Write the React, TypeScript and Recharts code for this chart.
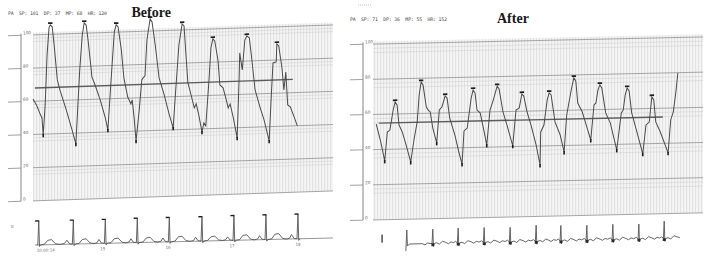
import React from 'react';
import { ComposedChart, Line, Scatter, XAxis, YAxis, ReferenceLine, ReferenceArea } from 'recharts';

// ---------- shared ----------
const pressureTicks = [0, 20, 40, 60, 80, 100];
const gridValues = [100, 80, 60, 40, 20, 0];
const faintOffsets = [2, 4];

// ---------- BEFORE (PA pressure, time in s, mmHg) ----------
const beforeHeader = 'PA  SP: 101  DP: 37  MP: 68  HR: 120';
const beforePA: [number, number][] = [
  [0, 61.4], [0.06, 57.2], [0.11, 52.3], [0.14, 49.8], [0.16, 39.6], [0.19, 57.6], [0.22, 87.7], [0.25, 103.9],
  [0.27, 105.7], [0.3, 104.5], [0.33, 93.6], [0.38, 72.4], [0.42, 66.3], [0.52, 54.2], [0.61, 42], [0.67, 33.5],
  [0.73, 78], [0.77, 99], [0.8, 106.2], [0.83, 104.9], [0.86, 95.9], [0.91, 77.8], [0.92, 73.5], [0.97, 68.6],
  [1.05, 59.5], [1.13, 48.6], [1.17, 41.3],
  [1.22, 71.3], [1.27, 100.2], [1.3, 104.4], [1.33, 103.1], [1.38, 89.2], [1.42, 72.3], [1.48, 60.7], [1.53, 56.5],
  [1.55, 58.9], [1.58, 48], [1.61, 34.1],
  [1.66, 52.7], [1.7, 70.7], [1.72, 71.9], [1.75, 73.1], [1.78, 94.7], [1.83, 107.3], [1.86, 105.4], [1.91, 91.5],
  [1.97, 71.6], [2.05, 61.2], [2.13, 49.1], [2.19, 41.2],
  [2.23, 64], [2.28, 91], [2.33, 103.6], [2.36, 102.4], [2.39, 84.9], [2.42, 68], [2.45, 63.7], [2.52, 52.8],
  [2.55, 55.2], [2.59, 48.5], [2.64, 38.2], [2.67, 43.6], [2.7, 41.7],
  [2.75, 69.4], [2.78, 88.6], [2.81, 94], [2.84, 92.7], [2.89, 81.2], [2.92, 66.1], [2.97, 64.3], [3.02, 57],
  [3.05, 52.1], [3.08, 54.5], [3.13, 46], [3.19, 33.9],
  [3.22, 68.8], [3.23, 85], [3.27, 74.7], [3.31, 92.7], [3.34, 95.1], [3.38, 93.9], [3.42, 80.5], [3.47, 62.4],
  [3.55, 51.5], [3.61, 44.2], [3.69, 31.4],
  [3.72, 56.1], [3.75, 78.3], [3.8, 78.9], [3.81, 89.7], [3.84, 88.4], [3.89, 75.1], [3.92, 61.8], [3.95, 72.6],
  [3.98, 52.7], [4.02, 51.5], [4.08, 45.4], [4.13, 39.9],
];
const beforePeaks: [number, number][] = [
  [0.27, 105.7], [0.8, 106.2], [1.3, 104.4], [1.83, 107.3], [2.33, 103.6], [2.81, 94], [3.34, 95.1], [3.81, 89.7],
];
const beforeTroughs: [number, number][] = [
  [0.16, 39.6], [0.67, 33.5], [1.17, 41.3], [1.61, 34.1], [2.19, 41.2], [2.64, 38.2], [3.19, 33.9], [3.69, 31.4],
];
const beforeMean: [number, number][] = [[0.03, 68], [4.06, 68]];
const beforeSpan = [-0.1875, 4.6875];

// ECG lead II (time s, mV)
const beforeEcg: [number, number][] = [
  [0.06, 0], [0.075, 0], [0.09, 1.2], [0.102, -0.08], [0.12, 0], [0.18, 0.03], [0.23, 0.22], [0.29, 0.25], [0.35, 0.04], [0.42, 0], [0.49, 0.04], [0.53, 0.2], [0.57, 0.02], [0.615, 0],
  [0.63, 1.2], [0.642, -0.08], [0.66, 0], [0.72, 0.03], [0.77, 0.22], [0.83, 0.25], [0.89, 0.04], [0.95, 0], [1.0, 0.04], [1.03, 0.2], [1.07, 0.02], [1.115, 0],
  [1.13, 1.2], [1.142, -0.08], [1.16, 0], [1.22, 0.03], [1.27, 0.22], [1.33, 0.25], [1.39, 0.04], [1.45, 0], [1.5, 0.04], [1.53, 0.2], [1.57, 0.02], [1.615, 0],
  [1.63, 1.22], [1.642, -0.08], [1.66, 0], [1.72, 0.03], [1.77, 0.22], [1.83, 0.25], [1.89, 0.04], [1.95, 0], [2.0, 0.04], [2.03, 0.2], [2.07, 0.02], [2.115, 0],
  [2.13, 1.22], [2.142, -0.08], [2.16, 0], [2.22, 0.03], [2.27, 0.24], [2.33, 0.26], [2.39, 0.04], [2.46, 0], [2.51, 0.04], [2.54, 0.2], [2.58, 0.02], [2.625, 0],
  [2.64, 1.22], [2.652, -0.08], [2.67, 0], [2.73, 0.03], [2.78, 0.2], [2.84, 0.23], [2.9, 0.04], [2.96, 0], [3.01, 0.04], [3.04, 0.18], [3.08, 0.02], [3.125, 0],
  [3.14, 1.24], [3.152, -0.08], [3.17, 0], [3.23, 0.03], [3.28, 0.24], [3.34, 0.26], [3.4, 0.04], [3.46, 0], [3.51, 0.04], [3.54, 0.2], [3.58, 0.02], [3.625, 0],
  [3.64, 1.24], [3.652, -0.08], [3.67, 0], [3.73, 0.03], [3.78, 0.26], [3.84, 0.28], [3.9, 0.04], [3.96, 0], [4.01, 0.04], [4.04, 0.22], [4.08, 0.02], [4.125, 0],
  [4.14, 1.24], [4.152, -0.08], [4.17, 0],
];
const beforeRPeaks: [number, number][] = [
  [0.09, 1.2], [0.63, 1.2], [1.13, 1.2], [1.63, 1.22], [2.13, 1.22], [2.64, 1.22], [3.14, 1.24], [3.64, 1.24], [4.14, 1.24],
];
const beforeEcgTicks = [0.2, 1.09, 2.11, 3.11, 4.14];
const beforeEcgLabels = ['10:00:14', '15', '16', '17', '18'];

// ---------- AFTER ----------
const afterHeader = 'PA  SP: 71  DP: 36  MP: 55  HR: 152';
const afterPA: [number, number][] = [
  [0.05, 54.5], [0.12, 44.2], [0.18, 33.4], [0.22, 49.8], [0.26, 50.9], [0.31, 62.3], [0.34, 66.8], [0.37, 65.1],
  [0.4, 53.7], [0.45, 49.7], [0.51, 42.2], [0.58, 32.5], [0.63, 45], [0.68, 55.2], [0.71, 70.5], [0.74, 77.8],
  [0.77, 76.1], [0.82, 63.6], [0.85, 61.8], [0.88, 60.7], [0.92, 51.5], [0.98, 43], [1.02, 61.7], [1.06, 63.4],
  [1.11, 69.6], [1.14, 68.4], [1.18, 57], [1.26, 47.3], [1.32, 37.6], [1.37, 30.7], [1.4, 49.5], [1.45, 51.1],
  [1.51, 68.1], [1.54, 72.7], [1.57, 70.9], [1.6, 61.2], [1.65, 59.5], [1.71, 48.7], [1.75, 41.2], [1.8, 61.1],
  [1.85, 66.7], [1.91, 74.6], [1.94, 72.9], [2.0, 59.8], [2.06, 52.4], [2.15, 40.4], [2.2, 60.8], [2.25, 61.9],
  [2.29, 69.8], [2.32, 68.6], [2.37, 59.5], [2.43, 52.1], [2.51, 40.6], [2.57, 29.2], [2.58, 48], [2.63, 51.9],
  [2.68, 66.1], [2.71, 70.1], [2.74, 68.9], [2.8, 53.5], [2.88, 46], [2.94, 36.3], [2.98, 57.3], [3.05, 71.5],
  [3.09, 78.3], [3.12, 76.5], [3.15, 64], [3.22, 58.8], [3.28, 51.4], [3.35, 42.8], [3.4, 62.7], [3.43, 63.8],
  [3.46, 71.1], [3.49, 74], [3.52, 72.2], [3.58, 58], [3.65, 52.3], [3.75, 36.8], [3.82, 57.8], [3.85, 59.5],
  [3.88, 68], [3.91, 71.9], [3.94, 70.2], [3.98, 57.7], [4.06, 46.8], [4.15, 34.3], [4.2, 50.7], [4.25, 52.3],
  [4.29, 66.5], [4.32, 64.8], [4.35, 52.3], [4.42, 46.5], [4.54, 34.5], [4.58, 53.2], [4.62, 57.7], [4.66, 69.1],
  [4.69, 79.8],
];
const afterPeaks: [number, number][] = [
  [0.34, 66.8], [0.74, 77.8], [1.11, 69.6], [1.54, 72.7], [1.91, 74.6], [2.29, 69.8], [2.71, 70.1], [3.09, 78.3],
  [3.49, 74], [3.91, 71.9], [4.29, 66.5],
];
const afterTroughs: [number, number][] = [
  [0.18, 33.4], [0.58, 32.5], [0.98, 43], [1.37, 30.7], [1.75, 41.2], [2.15, 40.4], [2.57, 29.2], [2.94, 36.3],
  [3.35, 42.8], [3.75, 36.8], [4.15, 34.3], [4.54, 34.5],
];
const afterMean: [number, number][] = [[0.09, 55], [4.46, 55]];
const afterSpan = [-0.154, 5.077];

const afterEcg: [number, number][] = [
  [0.505, -0.35], [0.52, 0.7], [0.53, -0.1], [0.56, 0], [0.7, 0], [0.76, 0], [0.8, -0.06], [0.84, 0.03], [0.88, 0], [0.908, 0],
  [0.92, 0.72], [0.93, -0.15], [0.945, 0], [0.98, 0.03], [1.02, -0.04], [1.07, 0.1], [1.12, 0.04], [1.16, -0.03], [1.2, 0.06], [1.24, 0.02], [1.27, 0.08], [1.298, 0],
  [1.31, 0.74], [1.32, -0.15], [1.335, 0], [1.37, 0.03], [1.41, -0.04], [1.46, 0.1], [1.51, 0.04], [1.55, -0.03], [1.59, 0.06], [1.63, 0.02], [1.67, 0.08], [1.698, 0],
  [1.71, 0.74], [1.72, -0.15], [1.735, 0], [1.77, 0.03], [1.81, -0.04], [1.86, 0.1], [1.91, 0.04], [1.95, -0.03], [1.99, 0.06], [2.03, 0.02], [2.07, 0.08], [2.098, 0],
  [2.11, 0.72], [2.12, -0.15], [2.135, 0], [2.17, 0.03], [2.21, -0.04], [2.26, 0.1], [2.31, 0.04], [2.35, -0.03], [2.39, 0.06], [2.43, 0.02], [2.47, 0.08], [2.498, 0],
  [2.51, 0.8], [2.52, -0.15], [2.535, 0], [2.57, 0.03], [2.61, -0.04], [2.66, 0.1], [2.7, 0.04], [2.74, -0.03], [2.78, 0.06], [2.82, 0.02], [2.85, 0.08], [2.878, 0],
  [2.89, 0.76], [2.9, -0.15], [2.915, 0], [2.95, 0.03], [2.99, -0.04], [3.04, 0.1], [3.09, 0.04], [3.13, -0.03], [3.17, 0.06], [3.21, 0.02], [3.25, 0.08], [3.278, 0],
  [3.29, 0.74], [3.3, -0.15], [3.315, 0], [3.35, 0.03], [3.39, -0.04], [3.44, 0.1], [3.49, 0.04], [3.53, -0.03], [3.57, 0.06], [3.61, 0.02], [3.65, 0.08], [3.678, 0],
  [3.69, 0.76], [3.7, -0.15], [3.715, 0], [3.75, 0.03], [3.79, -0.04], [3.84, 0.1], [3.89, 0.04], [3.93, -0.03], [3.97, 0.06], [4.01, 0.02], [4.05, 0.08], [4.078, 0],
  [4.09, 0.74], [4.1, -0.15], [4.115, 0], [4.15, 0.03], [4.19, -0.04], [4.24, 0.1], [4.29, 0.04], [4.33, -0.03], [4.37, 0.06], [4.41, 0.02], [4.44, 0.08], [4.468, 0],
  [4.48, 0.86], [4.49, -0.15], [4.505, 0], [4.54, 0.03], [4.58, -0.04], [4.63, 0.12], [4.68, 0.06], [4.72, 0.02],
];
const afterSpikeFeet: [number, number][] = [
  [0.92, -0.06], [1.31, -0.06], [1.71, -0.06], [2.11, -0.06], [2.51, -0.06], [2.89, -0.06], [3.29, -0.06],
  [3.69, -0.06], [4.09, -0.06], [4.48, -0.06],
];
const afterCal: [number, number][] = [[0.14, 0.1], [0.14, 0.5]];

// ---------- helpers ----------
const toRows = (pairs: [number, number][]) => pairs.map(([t, v]) => ({ t, v }));

const PressureTick = (props: any) => {
  const { x, y, payload } = props;
  return (
    <g>
      <line x1={x - 13} y1={y} x2={x} y2={y} stroke="#8a8a8a" strokeWidth={0.8} />
      <text x={x + 2} y={y - 0.8} fontSize={4.2} fill="#666" fontFamily="DejaVu Sans">
        {payload.value}
      </text>
    </g>
  );
};

const PeakMark = (p: any) => <rect x={p.cx - 2.2} y={p.cy - 2.6} width={4.4} height={1.7} fill="#1c1c1c" />;
const TroughMark = (p: any) => <rect x={p.cx - 0.8} y={p.cy - 1} width={1.6} height={3.4} fill="#1c1c1c" />;
const FlagMark = (p: any) => (
  <line x1={p.cx - 3.6} y1={p.cy} x2={p.cx + 0.4} y2={p.cy} stroke="#1c1c1c" strokeWidth={1.3} />
);
const FootMark = (p: any) => <rect x={p.cx - 1.4} y={p.cy - 1.4} width={2.8} height={2.8} fill="#2a2a2a" />;

const Stripes = ({ id }: { id: string }) => (
  <defs>
    <pattern id={id} width={3} height={10} patternUnits="userSpaceOnUse">
      <rect width={3} height={10} fill="#f5f5f5" />
      <rect width={1} height={10} fill="#e0e0e0" />
    </pattern>
  </defs>
);

type PanelProps = {
  id: string;
  pa: [number, number][];
  peaks: [number, number][];
  troughs: [number, number][];
  mean: [number, number][];
  span: number[];
  width: number;
  height: number;
  margin: { top: number; right: number; bottom: number; left: number };
  faintStep: number;
};

const PressurePanel = ({ id, pa, peaks, troughs, mean, span, width, height, margin, faintStep }: PanelProps) => {
  const xEnd = span[1];
  return (
    <ComposedChart width={width} height={height} margin={margin}>
      <Stripes id={id} />
      <XAxis type="number" dataKey="t" domain={span} hide allowDataOverflow />
      <YAxis
        type="number"
        domain={[-2, 112]}
        ticks={pressureTicks}
        interval={0}
        width={13}
        axisLine={false}
        tickLine={false}
        tickSize={0}
        tickMargin={0}
        tick={<PressureTick />}
        allowDataOverflow
      />
      <ReferenceArea x1={0} x2={xEnd} y1={0} y2={101.5} fill={`url(#${id})`} fillOpacity={1} stroke="none" ifOverflow="visible" />
      {gridValues
        .filter((g) => g > 0)
        .flatMap((g) => faintOffsets.map((o) => g - o * faintStep))
        .map((g) => (
          <ReferenceLine key={`f${g}`} segment={[{ x: 0, y: g }, { x: xEnd, y: g }]} stroke="#d2d2d2" strokeWidth={0.6} ifOverflow="visible" />
        ))}
      {gridValues.map((g) => (
        <ReferenceLine key={`g${g}`} segment={[{ x: 0, y: g }, { x: xEnd, y: g }]} stroke="#9c9c9c" strokeWidth={0.9} ifOverflow="visible" />
      ))}
      <ReferenceLine segment={[{ x: span[0], y: 0 }, { x: span[0], y: 101 }]} stroke="#777" strokeWidth={0.9} ifOverflow="visible" />
      <Line data={toRows(mean)} dataKey="v" type="linear" stroke="#5c5c5c" strokeWidth={1.4} dot={false} activeDot={false} isAnimationActive={false} />
      <Line data={toRows(pa)} dataKey="v" type="linear" stroke="#4a4a4a" strokeWidth={1} dot={false} activeDot={false} isAnimationActive={false} />
      <Scatter data={toRows(peaks)} dataKey="v" shape={PeakMark} isAnimationActive={false} />
      <Scatter data={toRows(troughs)} dataKey="v" shape={TroughMark} isAnimationActive={false} />
    </ComposedChart>
  );
};

export default function App() {
  return (
    <div style={{ position: 'absolute', left: 0, top: 0, width: 709, height: 270, background: '#ffffff', overflow: 'hidden' }}>
      {/* BEFORE pressure */}
      <div style={{ position: 'absolute', left: 0, top: 0, transform: 'skewY(-1.9deg)', transformOrigin: '33px 0px' }}>
        <PressurePanel
          id="stripesBefore"
          pa={beforePA}
          peaks={beforePeaks}
          troughs={beforeTroughs}
          mean={beforeMean}
          span={beforeSpan}
          width={340}
          height={206}
          margin={{ top: 15, right: 7, bottom: 1.8, left: 8 }}
          faintStep={1}
        />
      </div>
      {/* BEFORE ECG */}
      <div style={{ position: 'absolute', left: 0, top: 0, transform: 'skewY(-1.35deg)', transformOrigin: '35px 0px' }}>
        <ComposedChart width={340} height={262} margin={{ top: 215, right: 7, bottom: 0, left: 33 }}>
          <XAxis
            type="number"
            dataKey="t"
            domain={[0, 4.6875]}
            ticks={beforeEcgTicks}
            interval={0}
            height={14}
            axisLine={false}
            tickLine={false}
            tickSize={0}
            tickMargin={1}
            tick={{ fontSize: 4, fill: '#666', fontFamily: 'DejaVu Sans' }}
            tickFormatter={(v: number, i: number) => beforeEcgLabels[i] ?? String(v)}
            allowDataOverflow
          />
          <YAxis type="number" domain={[-0.15, 1.5]} hide allowDataOverflow />
          <ReferenceLine segment={[{ x: 0.03, y: 0 }, { x: 4.6875, y: 0 }]} stroke="#8c8c8c" strokeWidth={0.9} ifOverflow="visible" />
          <Line data={toRows(beforeEcg)} dataKey="v" type="linear" stroke="#555" strokeWidth={0.9} dot={false} activeDot={false} isAnimationActive={false} />
          <Scatter data={toRows(beforeRPeaks)} dataKey="v" shape={FlagMark} isAnimationActive={false} />
        </ComposedChart>
      </div>
      {/* AFTER pressure */}
      <div style={{ position: 'absolute', left: 350, top: 0, transform: 'skewY(-1.24deg)', transformOrigin: '23px 0px' }}>
        <PressurePanel
          id="stripesAfter"
          pa={afterPA}
          peaks={afterPeaks}
          troughs={afterTroughs}
          mean={afterMean}
          span={afterSpan}
          width={359}
          height={226}
          margin={{ top: 23, right: 6, bottom: 2.5, left: 0 }}
          faintStep={1.2}
        />
      </div>
      {/* AFTER ECG */}
      <div style={{ position: 'absolute', left: 350, top: 0, transform: 'skewY(-1.27deg)', transformOrigin: '60px 0px' }}>
        <ComposedChart width={359} height={262} margin={{ top: 224, right: 6, bottom: 10, left: 23 }}>
          <XAxis type="number" dataKey="t" domain={[0, 5.077]} hide allowDataOverflow />
          <YAxis type="number" domain={[-0.4, 1.0]} hide allowDataOverflow />
          <Line data={toRows(afterCal)} dataKey="v" type="linear" stroke="#6a6a6a" strokeWidth={1.8} dot={false} activeDot={false} isAnimationActive={false} />
          <Line data={toRows(afterEcg)} dataKey="v" type="linear" stroke="#555" strokeWidth={0.9} dot={false} activeDot={false} isAnimationActive={false} />
          <Scatter data={toRows(afterSpikeFeet)} dataKey="v" shape={FootMark} isAnimationActive={false} />
        </ComposedChart>
      </div>
      {/* annotations */}
      <svg width={709} height={270} style={{ position: 'absolute', left: 0, top: 0, pointerEvents: 'none' }}>
        <text x={8} y={15} fontSize={4.8} fontFamily="DejaVu Sans Mono" fill="#444" textLength={99} lengthAdjust="spacing" style={{ whiteSpace: 'pre' }}>
          {beforeHeader}
        </text>
        <text x={131.5} y={16.5} fontSize={14} fontWeight="bold" fontFamily="Liberation Serif" fill="#1a1a1a">
          Before
        </text>
        <line x1={358} y1={5} x2={372} y2={5} stroke="#9a9a9a" strokeWidth={0.6} strokeDasharray="1 1" />
        <text x={350} y={21} fontSize={4.8} fontFamily="DejaVu Sans Mono" fill="#444" textLength={97} lengthAdjust="spacing" style={{ whiteSpace: 'pre' }}>
          {afterHeader}
        </text>
        <text x={497} y={23} fontSize={14} fontWeight="bold" fontFamily="Liberation Serif" fill="#1a1a1a">
          After
        </text>
        <text x={11} y={228} fontSize={4.2} fontFamily="DejaVu Sans" fill="#666">
          II
        </text>
      </svg>
    </div>
  );
}
